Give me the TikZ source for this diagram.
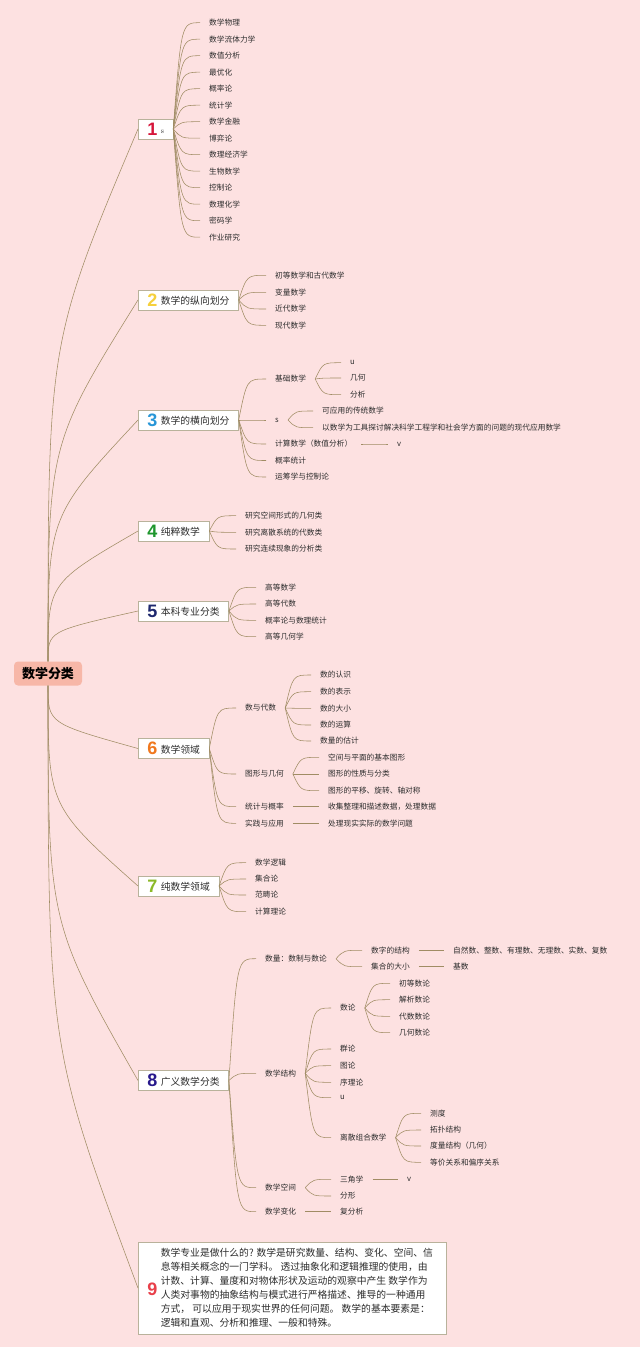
\documentclass[tikz,border=0pt]{standalone}
\usepackage{fontspec}
\newfontfamily\cjk{Noto Sans CJK SC}
\newfontfamily\numfnt{Liberation Sans}
\usetikzlibrary{calc}
\definecolor{bg}{RGB}{253,225,225}
\definecolor{rootfill}{RGB}{247,183,168}
\definecolor{conn}{RGB}{160,140,100}
\definecolor{boxline}{RGB}{185,178,155}
\definecolor{txt}{RGB}{45,45,45}
\definecolor{c1}{RGB}{214,22,59}
\definecolor{c2}{RGB}{245,208,60}
\definecolor{c3}{RGB}{40,150,215}
\definecolor{c4}{RGB}{30,150,45}
\definecolor{c5}{RGB}{30,40,110}
\definecolor{c6}{RGB}{240,120,30}
\definecolor{c7}{RGB}{140,185,40}
\definecolor{c8}{RGB}{40,25,140}
\definecolor{c9}{RGB}{232,64,74}
\newcommand\bnum[2]{\raisebox{-1.5pt}{\numfnt\bfseries\fontsize{18}{18}\selectfont\color{#1}#2}\hspace{3.5pt}}
\tikzset{
  leaf/.style={anchor=west, inner xsep=9pt, inner ysep=1pt, font=\fontsize{7.7}{9}\cjk, text=txt},
  mbox/.style={anchor=west, draw=boxline, fill=white, line width=0.6pt, inner xsep=9pt, inner ysep=1pt, minimum height=20pt, font=\fontsize{9.8}{11}\cjk, text=txt},
  cn/.style={draw=conn, line width=0.55pt},
  fan/.style={to path={let \p1=(\tikztostart), \p2=(\tikztotarget) in .. controls ({0.7*\x1+0.3*\x2},\y2) .. (\tikztotarget)}},
  rootc/.style={to path={let \p1=(\tikztostart), \p2=(\tikztotarget) in .. controls (\x1,{0.4*\y1+0.6*\y2}) .. (\tikztotarget)}},
}
\begin{document}
\begin{tikzpicture}[x=1pt,y=-1pt]
\fill[bg] (0,0) rectangle (640,1347);
\useasboundingbox (0,0) rectangle (640,1347);

% root
\node[fill=rootfill, rounded corners=4pt, minimum width=68pt, minimum height=24pt, inner sep=0pt, font=\fontsize{13}{14}\cjk\bfseries, text=black] (root) at (48,673.5) {数学分类};

% main boxes
\node[mbox] (b1) at (138,129) {\bnum{c1}{1}{\rmfamily\fontsize{7.5}{8}\selectfont s}};
\node[mbox] (b2) at (138,300) {\bnum{c2}{2}数学的纵向划分};
\node[mbox] (b3) at (138,420) {\bnum{c3}{3}数学的横向划分};
\node[mbox] (b4) at (138,531) {\bnum{c4}{4}纯粹数学};
\node[mbox] (b5) at (138,611) {\bnum{c5}{5}本科专业分类};
\node[mbox] (b6) at (138,748.5) {\bnum{c6}{6}数学领域};
\node[mbox] (b7) at (138,886) {\bnum{c7}{7}纯数学领域};
\node[mbox] (b8) at (138,1080.5) {\bnum{c8}{8}广义数学分类};
\node[mbox, anchor=north west, minimum width=306pt, minimum height=92.5pt, inner xsep=9pt] (b9) at (138,1241.5)
  {\raisebox{-5pt}{\numfnt\bfseries\fontsize{18}{18}\selectfont\color{c9}9}\hspace{3.5pt}%
   \begin{minipage}{276pt}\fontsize{9.8}{14}\cjk
   数学专业是做什么的? 数学是研究数量、结构、变化、空间、信\\
   息等相关概念的一门学科。 透过抽象化和逻辑推理的使用，由\\
   计数、计算、量度和对物体形状及运动的观察中产生 数学作为\\
   人类对事物的抽象结构与模式进行严格描述、推导的一种通用\\
   方式， 可以应用于现实世界的任何问题。 数学的基本要素是：\\
   逻辑和直观、分析和推理、一般和特殊。
   \end{minipage}};

% branch 1
\foreach \t/\y [count=\i] in {数学物理/22.7, 数学流体力学/39.2, 数值分析/55.7, 最优化/72.2, 概率论/88.7, 统计学/105.2, 数学金融/121.7, 博弈论/138.2, 数理经济学/154.7, 生物数学/171.2, 控制论/187.7, 数理化学/204.2, 密码学/220.7, 作业研究/237.2}
  \node[leaf] (a\i) at (200,\y) {\t};
\foreach \i in {1,...,14} \draw[cn] (b1.east) to[fan] (a\i.west);

% branch 2
\foreach \t/\y [count=\i] in {初等数学和古代数学/275.3, 变量数学/292.3, 近代数学/309, 现代数学/325.3}
  \node[leaf] (e\i) at (266,\y) {\t};
\foreach \i in {1,...,4} \draw[cn] (b2.east) to[fan] (e\i.west);

% branch 3
\node[leaf] (h1) at (266,379) {基础数学};
\node[leaf] (h2) at (266,420) {s};
\node[leaf] (h3) at (266,444) {计算数学（数值分析）};
\node[leaf] (h4) at (266,460.5) {概率统计};
\node[leaf] (h5) at (266,477) {运筹学与控制论};
\foreach \i in {1,...,5} \draw[cn] (b3.east) to[fan] (h\i.west);
\node[leaf] (h11) at (341,362.7) {u};
\node[leaf] (h12) at (341,378) {几何};
\node[leaf] (h13) at (341,394.7) {分析};
\foreach \i in {11,12,13} \draw[cn] (h1.east) to[fan] (h\i.west);
\node[leaf] (h21) at (313,411) {可应用的传统数学};
\node[leaf] (h22) at (313,427.7) {以数学为工具探讨解决科学工程学和社会学方面的问题的现代应用数学};
\foreach \i in {21,22} \draw[cn] (h2.east) to[fan] (h\i.west);
\node[leaf] (h31) at (388,444) {v};
\draw[cn] (h3.east) to[fan] (h31.west);

% branch 4
\foreach \t/\y [count=\i] in {研究空间形式的几何类/515.7, 研究离散系统的代数类/532.3, 研究连续现象的分析类/549}
  \node[leaf] (p\i) at (236,\y) {\t};
\foreach \i in {1,...,3} \draw[cn] (b4.east) to[fan] (p\i.west);

% branch 5
\foreach \t/\y [count=\i] in {高等数学/587.3, 高等代数/604, 概率论与数理统计/620.3, 高等几何学/636.7}
  \node[leaf] (q\i) at (256,\y) {\t};
\foreach \i in {1,...,4} \draw[cn] (b5.east) to[fan] (q\i.west);

% branch 6
\node[leaf] (r1) at (236,708) {数与代数};
\node[leaf] (r2) at (236,774) {图形与几何};
\node[leaf] (r3) at (236,806.7) {统计与概率};
\node[leaf] (r4) at (236,823.3) {实践与应用};
\foreach \i in {1,...,4} \draw[cn] (b6.east) to[fan] (r\i.west);
\foreach \t/\y [count=\i] in {数的认识/675, 数的表示/691.7, 数的大小/708.3, 数的运算/725, 数量的估计/741}
  \node[leaf] (r1\i) at (311,\y) {\t};
\foreach \i in {1,...,5} \draw[cn] (r1.east) to[fan] (r1\i.west);
\foreach \t/\y [count=\i] in {空间与平面的基本图形/757.3, 图形的性质与分类/774, 图形的平移、旋转、轴对称/790.7}
  \node[leaf] (r2\i) at (319,\y) {\t};
\foreach \i in {1,...,3} \draw[cn] (r2.east) to[fan] (r2\i.west);
\node[leaf] (r31) at (319,806.7) {收集整理和描述数据，处理数据};
\draw[cn] (r3.east) to[fan] (r31.west);
\node[leaf] (r41) at (319,823.3) {处理现实实际的数学问题};
\draw[cn] (r4.east) to[fan] (r41.west);

% branch 7
\foreach \t/\y [count=\i] in {数学逻辑/862.7, 集合论/879, 范畴论/895, 计算理论/911.7}
  \node[leaf] (s\i) at (246,\y) {\t};
\foreach \i in {1,...,4} \draw[cn] (b7.east) to[fan] (s\i.west);

% branch 8
\node[leaf] (g1) at (256,958.7) {数量：数制与数论};
\node[leaf] (g2) at (256,1073.3) {数学结构};
\node[leaf] (g3) at (256,1187.7) {数学空间};
\node[leaf] (g4) at (256,1211.7) {数学变化};
\foreach \i in {1,...,4} \draw[cn] (b8.east) to[fan] (g\i.west);
\node[leaf] (g11) at (362,950.3) {数字的结构};
\node[leaf] (g12) at (362,966.7) {集合的大小};
\foreach \i in {11,12} \draw[cn] (g1.east) to[fan] (g\i.west);
\node[leaf] (g111) at (444,950.3) {自然数、整数、有理数、无理数、实数、复数};
\draw[cn] (g11.east) to[fan] (g111.west);
\node[leaf] (g121) at (444,966.7) {基数};
\draw[cn] (g12.east) to[fan] (g121.west);
\foreach \t/\y [count=\i] in {数论/1008, 群论/1049, 图论/1065.7, 序理论/1082.3, u/1097.7, 离散组合数学/1137.7}
  \node[leaf] (g2\i) at (331,\y) {\t};
\foreach \i in {1,...,6} \draw[cn] (g2.east) to[fan] (g2\i.west);
\foreach \t/\y [count=\i] in {初等数论/983.3, 解析数论/999.7, 代数数论/1016.3, 几何数论/1032.7}
  \node[leaf] (n\i) at (390,\y) {\t};
\foreach \i in {1,...,4} \draw[cn] (g21.east) to[fan] (n\i.west);
\foreach \t/\y [count=\i] in {测度/1113.3, 拓扑结构/1130, 度量结构（几何）/1146, 等价关系和偏序关系/1162.3}
  \node[leaf] (m\i) at (421,\y) {\t};
\foreach \i in {1,...,4} \draw[cn] (g26.east) to[fan] (m\i.west);
\node[leaf] (g31) at (331,1179.3) {三角学};
\node[leaf] (g32) at (331,1196) {分形};
\foreach \i in {31,32} \draw[cn] (g3.east) to[fan] (g\i.west);
\node[leaf] (g311) at (398,1179.3) {v};
\draw[cn] (g31.east) to[fan] (g311.west);
\node[leaf] (g41) at (331,1211.7) {复分析};
\draw[cn] (g4.east) to[fan] (g41.west);

% root connectors
\foreach \b in {b1,b2,b3,b4,b5} \draw[cn] (root.north) to[rootc] (\b.west);
\foreach \b in {b6,b7,b8,b9} \draw[cn] (root.south) to[rootc] (\b.west);
\end{tikzpicture}
\end{document}
